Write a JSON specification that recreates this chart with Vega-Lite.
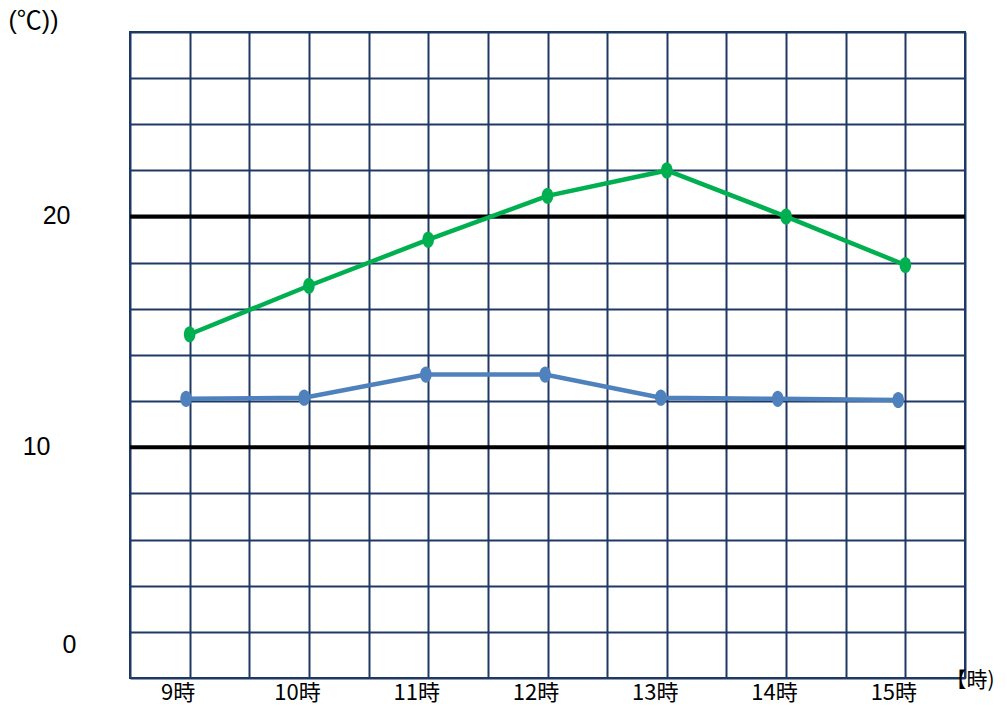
{
  "$schema": "https://vega.github.io/schema/vega-lite/v6.json",
  "autosize": "none",
  "width": 835,
  "height": 646,
  "padding": {"left": 130, "top": 32, "right": 42, "bottom": 30},
  "background": "white",
  "config": {
    "view": {"stroke": "#1f3864", "strokeWidth": 2},
    "font": "Liberation Sans Narrow, Liberation Sans, Noto Sans CJK JP"
  },
  "datasets": {
    "temps": [
      {"hour": 9, "temp": 14.9, "series": "A"},
      {"hour": 10, "temp": 17.0, "series": "A"},
      {"hour": 11, "temp": 19.0, "series": "A"},
      {"hour": 12, "temp": 20.9, "series": "A"},
      {"hour": 13, "temp": 22.0, "series": "A"},
      {"hour": 14, "temp": 20.0, "series": "A"},
      {"hour": 15, "temp": 17.9, "series": "A"},
      {"hour": 8.97, "temp": 12.1, "series": "B"},
      {"hour": 9.96, "temp": 12.15, "series": "B"},
      {"hour": 10.98, "temp": 13.15, "series": "B"},
      {"hour": 11.98, "temp": 13.15, "series": "B"},
      {"hour": 12.95, "temp": 12.15, "series": "B"},
      {"hour": 13.93, "temp": 12.1, "series": "B"},
      {"hour": 14.94, "temp": 12.05, "series": "B"}
    ],
    "refs": [{"v": 10}, {"v": 20}]
  },
  "layer": [
    {
      "data": {"name": "refs"},
      "mark": {"type": "rule", "color": "black", "strokeWidth": 4},
      "encoding": {
        "y": {
          "field": "v",
          "type": "quantitative",
          "scale": {"domain": [0, 28], "nice": false, "zero": false},
          "axis": {
            "values": [0, 2, 4, 6, 8, 10, 12, 14, 16, 18, 20, 22, 24, 26, 28],
            "labelExpr": "datum.value == 0 || datum.value == 10 || datum.value == 20 ? datum.value : ''",
            "grid": true,
            "gridColor": "#1f3864",
            "gridWidth": 2,
            "gridOpacity": 1,
            "domain": false,
            "ticks": false,
            "labelFont": "Liberation Sans Narrow, Liberation Sans",
            "labelFontSize": 25,
            "labelColor": "black",
            "labelAlign": "right",
            "labelBaseline": "middle",
            "labelPadding": {
              "condition": [
                {"test": "datum.value == 0", "value": 54},
                {"test": "datum.value == 10", "value": 80}
              ],
              "value": 60
            },
            "labelOffset": {"condition": {"test": "datum.value == 0", "value": -34}, "value": -1},
            "title": "(℃))",
            "titleAngle": 0,
            "titleX": -122,
            "titleY": -12,
            "titleAlign": "left",
            "titleBaseline": "middle",
            "titleFont": "Liberation Sans, Noto Sans CJK JP",
            "titleFontSize": 25,
            "titleFontWeight": "normal",
            "titleColor": "black"
          }
        }
      }
    },
    {
      "data": {"name": "temps"},
      "mark": {"type": "line", "strokeWidth": 4.5, "clip": false},
      "encoding": {
        "x": {
          "field": "hour",
          "type": "quantitative",
          "scale": {"domain": [8.5, 15.5], "nice": false, "zero": false},
          "axis": {
            "values": [8.5, 9, 9.5, 10, 10.5, 11, 11.5, 12, 12.5, 13, 13.5, 14, 14.5, 15, 15.5],
            "labelExpr": "datum.value % 1 == 0 ? datum.value + '時' : ''",
            "grid": true,
            "gridColor": "#1f3864",
            "gridWidth": 2,
            "gridOpacity": 1,
            "domain": false,
            "ticks": false,
            "labelFont": "Liberation Sans Narrow, Noto Sans CJK JP",
            "labelFontSize": 22,
            "labelColor": "black",
            "labelPadding": 4,
            "labelOffset": -12,
            "title": "【時)",
            "titleX": 815,
            "titleY": 2,
            "titleAlign": "left",
            "titleBaseline": "middle",
            "titleFont": "Noto Sans CJK JP",
            "titleFontSize": 21,
            "titleFontWeight": "normal",
            "titleColor": "black"
          }
        },
        "y": {"field": "temp", "type": "quantitative"},
        "color": {
          "field": "series",
          "type": "nominal",
          "scale": {"domain": ["A", "B"], "range": ["#00b050", "#4f81bd"]},
          "legend": null
        }
      }
    },
    {
      "data": {"name": "temps"},
      "mark": {
        "type": "point",
        "filled": true,
        "opacity": 1,
        "size": 260,
        "shape": "M0,-1 A0.72,1 0 1,1 0,1 A0.72,1 0 1,1 0,-1 Z"
      },
      "encoding": {
        "x": {"field": "hour", "type": "quantitative"},
        "y": {"field": "temp", "type": "quantitative"},
        "color": {"field": "series", "type": "nominal", "legend": null}
      }
    }
  ]
}
